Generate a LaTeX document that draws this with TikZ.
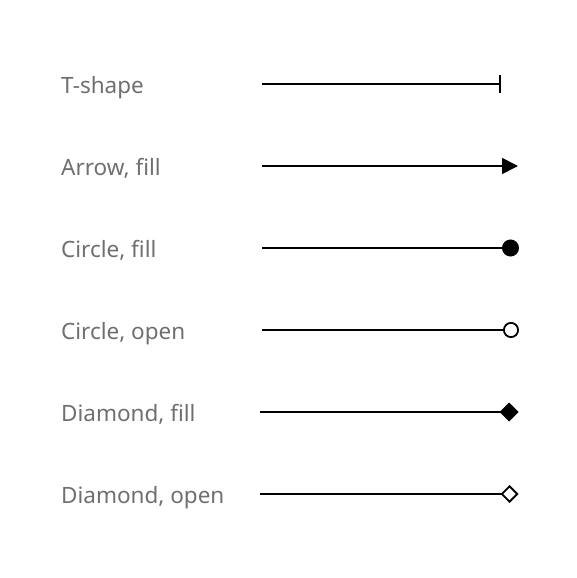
\documentclass[tikz,border=0pt]{standalone}
\usepackage{fontspec}
\setmainfont{Noto Sans}
\usetikzlibrary{arrows.meta}
\definecolor{labelgray}{HTML}{6F6F6F}
\begin{document}
\begin{tikzpicture}[x=1pt,y=-1pt,
  lbl/.style={anchor=base west, inner sep=0pt, text=labelgray, font=\fontsize{22.5}{26}\selectfont},
  conn/.style={line width=1.8pt, black}]
\useasboundingbox (0,0) rectangle (576,578);
\node[lbl] (l1) at (61,93.5) {T-shape};
\node[lbl] (l2) at (61,175.5) {Arrow, fill};
\node[lbl] (l3) at (61,257.5) {Circle, fill};
\node[lbl] (l4) at (61,339.5) {Circle, open};
\node[lbl] (l5) at (61,421.5) {Diamond, fill};
\node[lbl] (l6) at (61,503.5) {Diamond, open};
\coordinate (s1) at (262,84);  \coordinate (e1) at (501,84);
\coordinate (s2) at (262,166); \coordinate (e2) at (518,166);
\coordinate (s3) at (262,248); \coordinate (e3) at (519,248);
\coordinate (s4) at (262,330); \coordinate (e4) at (519,330);
\coordinate (s5) at (260,412); \coordinate (e5) at (518.5,412);
\coordinate (s6) at (260,494); \coordinate (e6) at (518.5,494);
\draw[conn, -{Bar[width=18pt]}] (s1) -- (e1);
\draw[conn, -{Triangle[length=16pt,width=16pt]}] (s2) -- (e2);
\draw[conn, -{Circle[length=17pt]}] (s3) -- (e3);
\draw[conn, -{Circle[open,length=16pt,fill=white]}] (s4) -- (e4);
\draw[conn, -{Turned Square[length=19pt,width=19pt]}] (s5) -- (e5);
\draw[conn, -{Turned Square[open,length=18pt,width=18pt,fill=white]}] (s6) -- (e6);
\end{tikzpicture}
\end{document}
